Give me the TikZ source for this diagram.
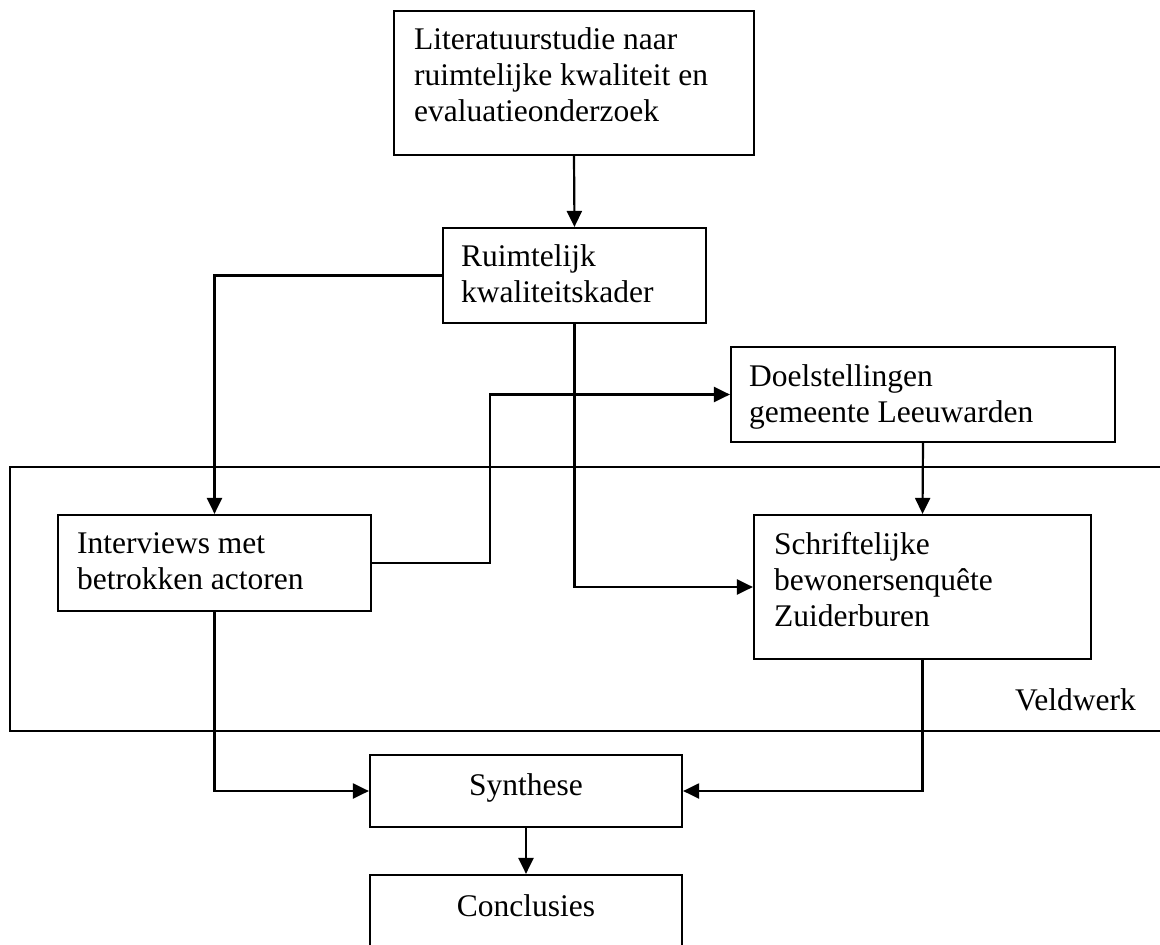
\documentclass[tikz,border=0pt]{standalone}
\usepackage{fontspec}
\setmainfont{Liberation Serif}
\usetikzlibrary{arrows.meta,calc}
\newcommand{\firstline}{\rule{0pt}{25pt}}
\begin{document}
\begin{tikzpicture}[x=1pt,y=-1pt,
  box/.style={draw,line width=2.2pt,rectangle,inner sep=0pt},
  txt/.style={inner sep=0pt,align=left,anchor=north west,font=\fontsize{31.5}{36}\selectfont},
  ctxt/.style={font=\fontsize{31.5}{36}\selectfont,text height=21.5pt,text depth=13pt},
  conn/.style={line width=2.2pt},
  arr/.style={conn,-{Triangle[length=16pt,width=15pt]}}]
\useasboundingbox (0,0) rectangle (1160,945);
\clip (0,0) rectangle (1160,945);

% Veldwerk frame (open to the right)
\draw[conn] (1175,467) -| (10,731) -- (1175,731);
\node[inner sep=0pt,anchor=base west,font=\fontsize{31.5}{36}\selectfont] (vw) at (1015,710) {Veldwerk};

% boxes
\node[box,minimum width=360pt,minimum height=144pt] (lit) at (574,83) {};
\node[txt] (litT) at ([shift={(21,14.5)}]lit.north west) {\firstline Literatuurstudie naar\\ruimtelijke kwaliteit en\\evaluatieonderzoek};

\node[box,minimum width=263pt,minimum height=95pt] (rk) at (574.5,275.5) {};
\node[txt] (rkT) at ([shift={(19,14.5)}]rk.north west) {\firstline Ruimtelijk\\kwaliteitskader};

\node[box,minimum width=384pt,minimum height=95pt] (doel) at (923,394.5) {};
\node[txt] (doelT) at ([shift={(19,15)}]doel.north west) {\firstline Doelstellingen\\gemeente Leeuwarden};

\node[box,minimum width=313pt,minimum height=96pt] (int) at (214.5,563) {};
\node[txt] (intT) at ([shift={(20,14.5)}]int.north west) {\firstline Interviews met\\betrokken actoren};

\node[box,minimum width=337pt,minimum height=144pt] (sch) at (922.5,587) {};
\node[txt] (schT) at ([shift={(21,15)}]sch.north west) {\firstline Schriftelijke\\bewonersenquête\\Zuiderburen};

\node[box,ctxt,minimum width=312pt,minimum height=72pt] (syn) at (526,791) {Synthese};
\node[box,ctxt,minimum width=312pt,minimum height=75pt] (con) at (526,912.5) {Conclusies};

% connectors
\coordinate (k1) at (490,500);
\draw[arr] (lit.south) -- (rk.north);
\draw[arr] (rk.west) -| (int.north);
\draw[arr] (rk.south) |- (sch.west);
\draw[arr] (int.east) -| (k1) |- (doel.west);
\draw[arr] (doel.south) -- (sch.north);
\draw[arr] (int.south) |- (syn.west);
\draw[arr] (sch.south) |- (syn.east);
\draw[arr] (syn.south) -- (con.north);
\end{tikzpicture}
\end{document}
